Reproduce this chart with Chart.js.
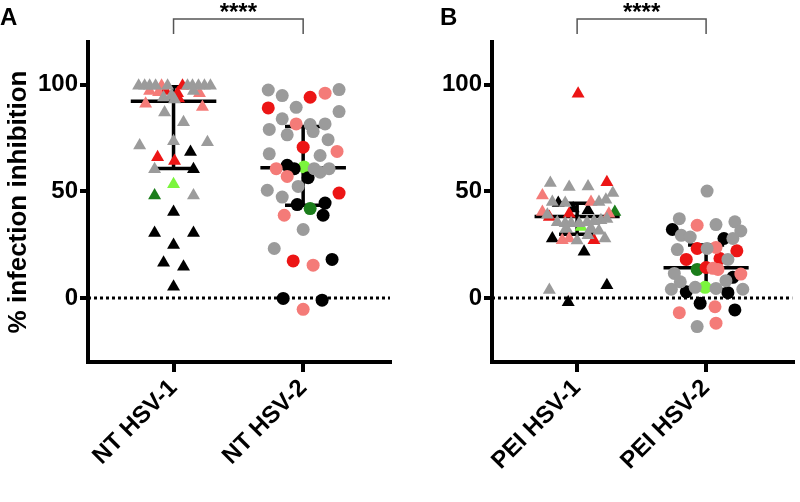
<!DOCTYPE html>
<html>
<head>
<meta charset="utf-8">
<script src="https://cdn.jsdelivr.net/npm/chart.js@4.4.0/dist/chart.umd.min.js"></script>
<style>
  body { margin: 0; background: #fff; }
  #wrap { position: relative; width: 800px; height: 502px; }
  canvas { position: absolute; top: 0; }
</style>
</head>
<body>
<div id="wrap">
  <canvas id="chartA" width="400" height="502" style="left:0"></canvas>
  <canvas id="chartB" width="400" height="502" style="left:400px"></canvas>
</div>
<script>
// categories
const catsA = ['NT HSV-1', 'NT HSV-2'];
const catsB = ['PEI HSV-1', 'PEI HSV-2'];
const yTicks = [0, 50, 100];

// donor groups: g grey, p pink, r red, k black, d dark green, l light green
// each point: value, jitter (px from category centre), group
const ntHsv1Values = [99.5,99.5,99.5,99.5,99.5,99.5,99.5,99.5,99.5,99.5,99.5,99.5,97,96.5,97,96,96,97,95,93.5,94,93,91,89.5,87,82.4,71.5,73.5,73,68.4,66,64.2,60.3,60.3,53.3,48.1,48.1,40.3,30.5,30.5,24.8,16.5,14.6,5.3];
const ntHsv1Jitter = [-35,-29,-24,-18,-12,-6,9,14,19,25,31,37,-24,-15,-8,4,26,20,-2,5,-10,1,-28,29,-9,10,-34,0,34,17,-16,1,-19,20,0,-19,20,0,-19,20,0,-10,10,0];
const ntHsv1Groups = ['g','g','g','g','p','g','r','g','g','g','g','g','p','p','r','r','p','g','g','r','g','g','p','p','g','g','g','g','g','k','r','r','g','k','l','d','g','k','k','k','k','k','k','k'];

const ntHsv2Values = [97.5,94.9,94.1,96,97.7,89.1,89.4,87.4,84,79,76.5,81.6,81.3,81.6,78,74.2,70.7,68.7,67.6,66.8,60.6,62.2,60.6,61.4,60.6,59,60.6,57,56.4,52.3,50.5,47.3,49.2,43.8,41.9,44.5,38.8,38.8,32.1,23.2,17.4,15.4,18.1,-0.2,-1,-5.3];
const ntHsv2Jitter = [-35,-21,7,22,36,-35,-7,36,-21,-34,-16,-7,7,22,10,25,0,34,-34,17,-27,-16,-9,1,11,17,26,-16,5,-5,-36,-21,36,-6,7,22,20,-19,0,-29,-10,10,29,-20,19,0];
const ntHsv2Groups = ['g','g','r','p','g','r','g','g','g','g','g','p','g','g','g','g','r','p','g','g','p','k','k','l','g','g','g','p','k','g','g','g','r','k','d','k','k','p','g','g','r','p','k','k','k','p'];

const peiHsv1Values = [95.7,53.9,52,52.3,54.3,49.2,48.1,45,44.5,44.5,45,46.1,45,41.1,42,40.3,38,39,40.3,39.5,35.5,35,35,35,35.5,36,36.5,37,39.5,33.3,32.7,32.7,31.5,27.9,27.1,27.9,27,29.4,27.1,27.9,21.7,3.7,-2,6];
const peiHsv1Jitter = [1,-27,-8,11,30,36,-35,-25,-19,-12,22,29,14,11,-4,-35,-28,-30,38,32,-20,-12,-6,2,10,17,24,30,-8,4,-11,14,22,-25,-15,-8,0,11,17,28,7,-28,-9,30];
const peiHsv1Groups = ['r','g','g','g','r','g','p','g','k','g','g','g','p','k','k','p','r','g','d','p','g','g','g','g','g','g','g','g','r','l','g','g','g','k','p','p','g','g','r','g','k','g','k','k'];

const peiHsv2Values = [50.1,37.2,32.1,34.1,34.4,35.7,31.4,29.4,28.6,27.9,27.9,22.7,23.2,23.2,23.7,22.1,18.1,18.5,18.1,13.4,14.3,13.9,13.4,11.5,9.7,11.2,7.6,8.1,5,5,4.1,2.9,4.5,4.1,2.5,-2.5,-4.1,-5.6,-6.9,-13.4,-11.8];
const peiHsv2Jitter = [1,-27,-34,-9,10,29,35,-25,-16,18,27,-29,-9,1,10,31,-20,14,22,-9,0,7,12,-32,27,35,-26,20,-11,-1,-35,-20,10,37,22,-6,9,29,-27,-9,10];
const peiHsv2Groups = ['g','g','k','p','g','g','g','g','g','k','g','g','r','g','p','r','r','r','g','d','r','p','p','g','k','p','g','g','g','l','g','k','g','g','k','k','p','k','p','g','p'];

// median and interquartile range per category
const mediansA = [92.2, 61];
const q1A = [60.7, 43.5];
const q3A = [99, 80.4];
const mediansB = [38.2, 14.2];
const q1B = [29.9, 4];
const q3B = [44.4, 24.8];

const palette = { g: '#9b9b9b', p: '#f47b78', r: '#ec1515', k: '#000000', d: '#1b7d1b', l: '#7bf53d' };
const groupOrder = ['g', 'p', 'r', 'k', 'd', 'l'];
const PX_PER_CAT = 130;
const FONT = '"Liberation Sans", Arial, Helvetica, sans-serif';

Chart.defaults.font.family = FONT;
Chart.defaults.font.weight = 'bold';
Chart.defaults.color = '#000';

function pointSets(catIndex, values, jitter, groups, shape) {
  return groupOrder.map(g => {
    const pts = [];
    values.forEach((v, i) => {
      if (groups[i] === g) pts.push({ x: catIndex + jitter[i] / PX_PER_CAT, y: v });
    });
    return {
      data: pts,
      showLine: false,
      pointStyle: shape,
      pointRadius: shape === 'triangle' ? 7.5 : 6.5,
      pointBackgroundColor: palette[g],
      pointBorderColor: palette[g],
      pointBorderWidth: 0,
      order: 1
    };
  }).filter(d => d.data.length);
}

function errorBars(medians, q1, q3) {
  const pts = [];
  medians.forEach((m, i) => {
    pts.push({ x: i - 0.33, y: m }, { x: i + 0.33, y: m }, { x: i, y: null });
    pts.push({ x: i, y: q1[i] }, { x: i, y: q3[i] }, { x: i, y: null });
    pts.push({ x: i - 0.14, y: q3[i] }, { x: i + 0.14, y: q3[i] }, { x: i, y: null });
    pts.push({ x: i - 0.14, y: q1[i] }, { x: i + 0.14, y: q1[i] }, { x: i, y: null });
  });
  return {
    data: pts,
    showLine: true,
    borderColor: '#000',
    borderWidth: 3.5,
    pointRadius: 0,
    spanGaps: false,
    order: 2
  };
}

function zeroLine() {
  return {
    data: [{ x: -0.66, y: 0 }, { x: 1.67, y: 0 }],
    showLine: true,
    borderColor: '#000',
    borderWidth: 3,
    borderDash: [3, 3],
    pointRadius: 0,
    order: 3
  };
}

const panelMarks = {
  id: 'panelMarks',
  afterDraw(chart, args, opts) {
    const ctx = chart.ctx;
    const xs = chart.scales.x;
    const x0 = xs.getPixelForValue(0);
    const x1 = xs.getPixelForValue(1);
    ctx.save();
    ctx.fillStyle = '#000';
    ctx.font = 'bold 24px ' + FONT;
    ctx.textBaseline = 'top';
    ctx.fillText(opts.letter, opts.letterX, 6);
    ctx.strokeStyle = '#555';
    ctx.lineWidth = 1.5;
    ctx.beginPath();
    ctx.moveTo(x0, 34); ctx.lineTo(x0, 19); ctx.lineTo(x1, 19); ctx.lineTo(x1, 34);
    ctx.stroke();
    ctx.textAlign = 'center';
    ctx.fillText(opts.sig, (x0 + x1) / 2, 1);
    ctx.restore();
  }
};

function makeChart(id, cats, groupsData, med, lo, hi, opt) {
  const datasets = [];
  groupsData.forEach((g, i) => datasets.push(...pointSets(i, g[0], g[1], g[2], g[3])));
  datasets.push(errorBars(med, lo, hi));
  datasets.push(zeroLine());
  return new Chart(document.getElementById(id), {
    type: 'scatter',
    data: { datasets },
    options: {
      responsive: false,
      animation: false,
      layout: { padding: { top: 42, right: opt.padRight, left: 0, bottom: 0 } },
      plugins: {
        legend: { display: false },
        tooltip: { enabled: false },
        panelMarks: { letter: opt.letter, letterX: opt.letterX, sig: '****' }
      },
      scales: {
        x: {
          type: 'linear',
          min: -0.66,
          max: 1.67,
          afterBuildTicks: s => { s.ticks = cats.map((c, i) => ({ value: i })); },
          afterFit: s => { s.height = 140; },
          ticks: {
            callback: v => cats[v],
            minRotation: 45,
            maxRotation: 45,
            padding: 2,
            font: { size: 24, weight: 'bold' },
            color: '#000'
          },
          grid: { drawOnChartArea: false, drawTicks: true, tickLength: 10, lineWidth: 4, color: '#000' },
          border: { display: true, width: 4, color: '#000' }
        },
        y: {
          min: -30,
          max: 120,
          afterBuildTicks: s => { s.ticks = yTicks.map(v => ({ value: v })); },
          afterFit: s => { s.width = opt.yWidth; },
          ticks: { padding: 2, font: { size: 24, weight: 'bold' }, color: '#000' },
          grid: { drawOnChartArea: false, drawTicks: true, tickLength: 8, lineWidth: 4, color: '#000' },
          border: { display: true, width: 4, color: '#000' },
          title: {
            display: opt.yTitle,
            text: '% infection inhibition',
            font: { size: 26, weight: 'bold' },
            color: '#000',
            padding: { top: 3, bottom: 0 }
          }
        }
      }
    },
    plugins: [panelMarks]
  });
}

makeChart('chartA', catsA, [
  [ntHsv1Values, ntHsv1Jitter, ntHsv1Groups, 'triangle'],
  [ntHsv2Values, ntHsv2Jitter, ntHsv2Groups, 'circle']
], mediansA, q1A, q3A, { letter: 'A', letterX: 0, padRight: 10, yWidth: 88, yTitle: true });

makeChart('chartB', catsB, [
  [peiHsv1Values, peiHsv1Jitter, peiHsv1Groups, 'triangle'],
  [peiHsv2Values, peiHsv2Jitter, peiHsv2Groups, 'circle']
], mediansB, q1B, q3B, { letter: 'B', letterX: 40, padRight: 5, yWidth: 92, yTitle: false });
</script>
</body>
</html>
